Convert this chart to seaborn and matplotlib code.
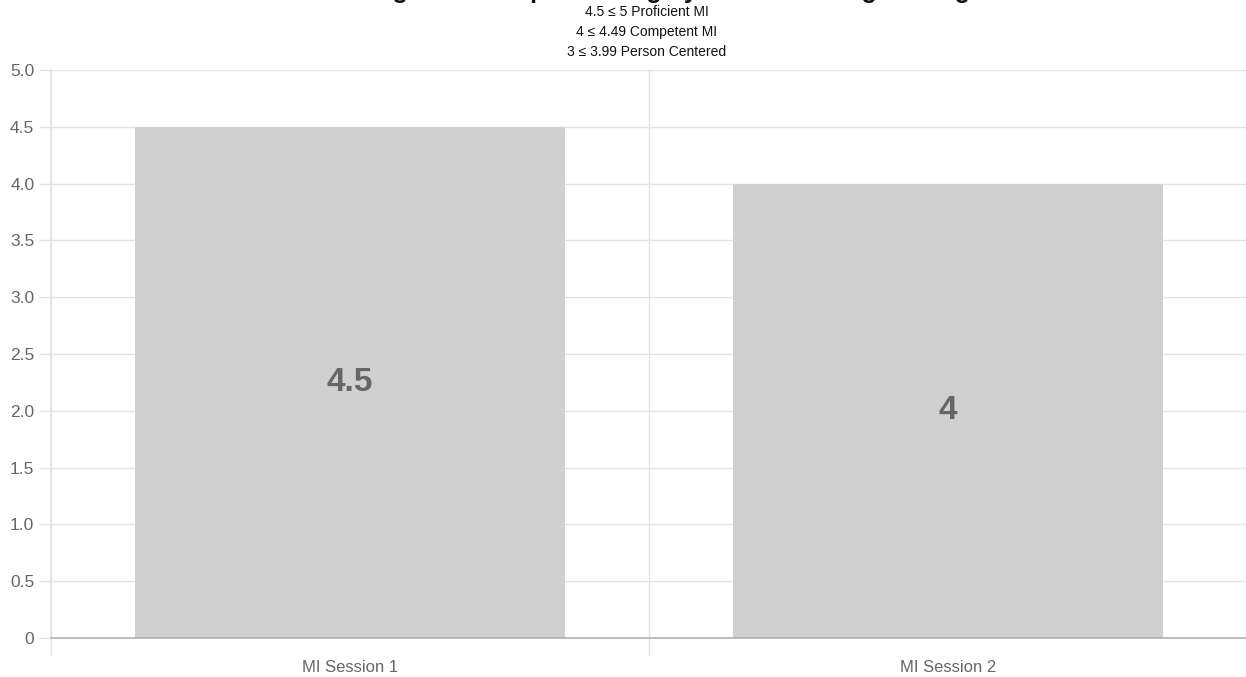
import matplotlib
matplotlib.use("Agg")
import matplotlib.pyplot as plt
import seaborn as sns
import pandas as pd

categories = ["MI Session 1", "MI Session 2"]
scores = [4.5, 4.0]
value_labels = ["4.5", "4"]
title_text = "Average Global Spirit Rating by Session Using Coding"
subtitle_lines = ["4.5 \u2264 5 Proficient MI", "4 \u2264 4.49 Competent MI", "3 \u2264 3.99 Person Centered"]
y_ticks = [0, 0.5, 1.0, 1.5, 2.0, 2.5, 3.0, 3.5, 4.0, 4.5, 5.0]

sns.set_theme(style="white")
plt.rcParams['font.family'] = ['Liberation Sans', 'DejaVu Sans']

df = pd.DataFrame({"session": categories, "score": scores})

fig = plt.figure(figsize=(12.46, 6.77), dpi=100)
ax = fig.add_axes([51/1246, 1 - 638/677, 1196/1246, (638-70)/677])

sns.barplot(data=df, x="session", y="score", color="#d0d0d0", saturation=1,
            width=0.72, ax=ax, zorder=2)
for p in ax.patches:
    p.set_edgecolor("none")

ax.set_xlim(-0.5, 1.5)
ax.set_ylim(0, 5)
ax.set_yticks(y_ticks)
ax.set_yticklabels(["0" if v == 0 else f"{v:.1f}" for v in y_ticks])
ax.set_xlabel("")
ax.set_ylabel("")

grid_c = "#e3e3e3"
ax.set_xticks([-0.5, 0.5, 1.5], minor=True)
ax.grid(True, axis="y", color=grid_c, linewidth=1, zorder=0)
ax.grid(True, axis="x", which="minor", color=grid_c, linewidth=1, zorder=0)
ax.grid(False, axis="x", which="major")
ax.set_axisbelow(True)

ax.tick_params(axis="y", length=9, width=1, color=grid_c, labelcolor="#666666",
               labelsize=12.5, pad=3, left=True)
ax.tick_params(axis="x", which="major", length=0, labelcolor="#666666",
               labelsize=12, pad=16)
ax.tick_params(axis="x", which="minor", length=12, width=1, color=grid_c, bottom=True)

for s in ["top", "right"]:
    ax.spines[s].set_visible(False)
ax.spines["left"].set_color(grid_c)
ax.spines["bottom"].set_color("#b0b0b0")
ax.spines["bottom"].set_linewidth(1.2)

for i, (v, lab) in enumerate(zip(scores, value_labels)):
    ax.text(i, v / 2, lab, ha="center", va="center", fontsize=24,
            fontweight="bold", color="#666666", zorder=3)

cx = (51 + 1243) / 2 / 1246
fig.text(cx, 1 + 2/677, title_text, ha="center", va="baseline",
         fontsize=18, fontweight="bold", color="#111111")
for k, line in enumerate(subtitle_lines):
    fig.text(cx, 1 - (12 + k * 20) / 677, line, ha="center", va="center",
             fontsize=10, color="#111111")

fig.savefig("out.png", dpi=100)
